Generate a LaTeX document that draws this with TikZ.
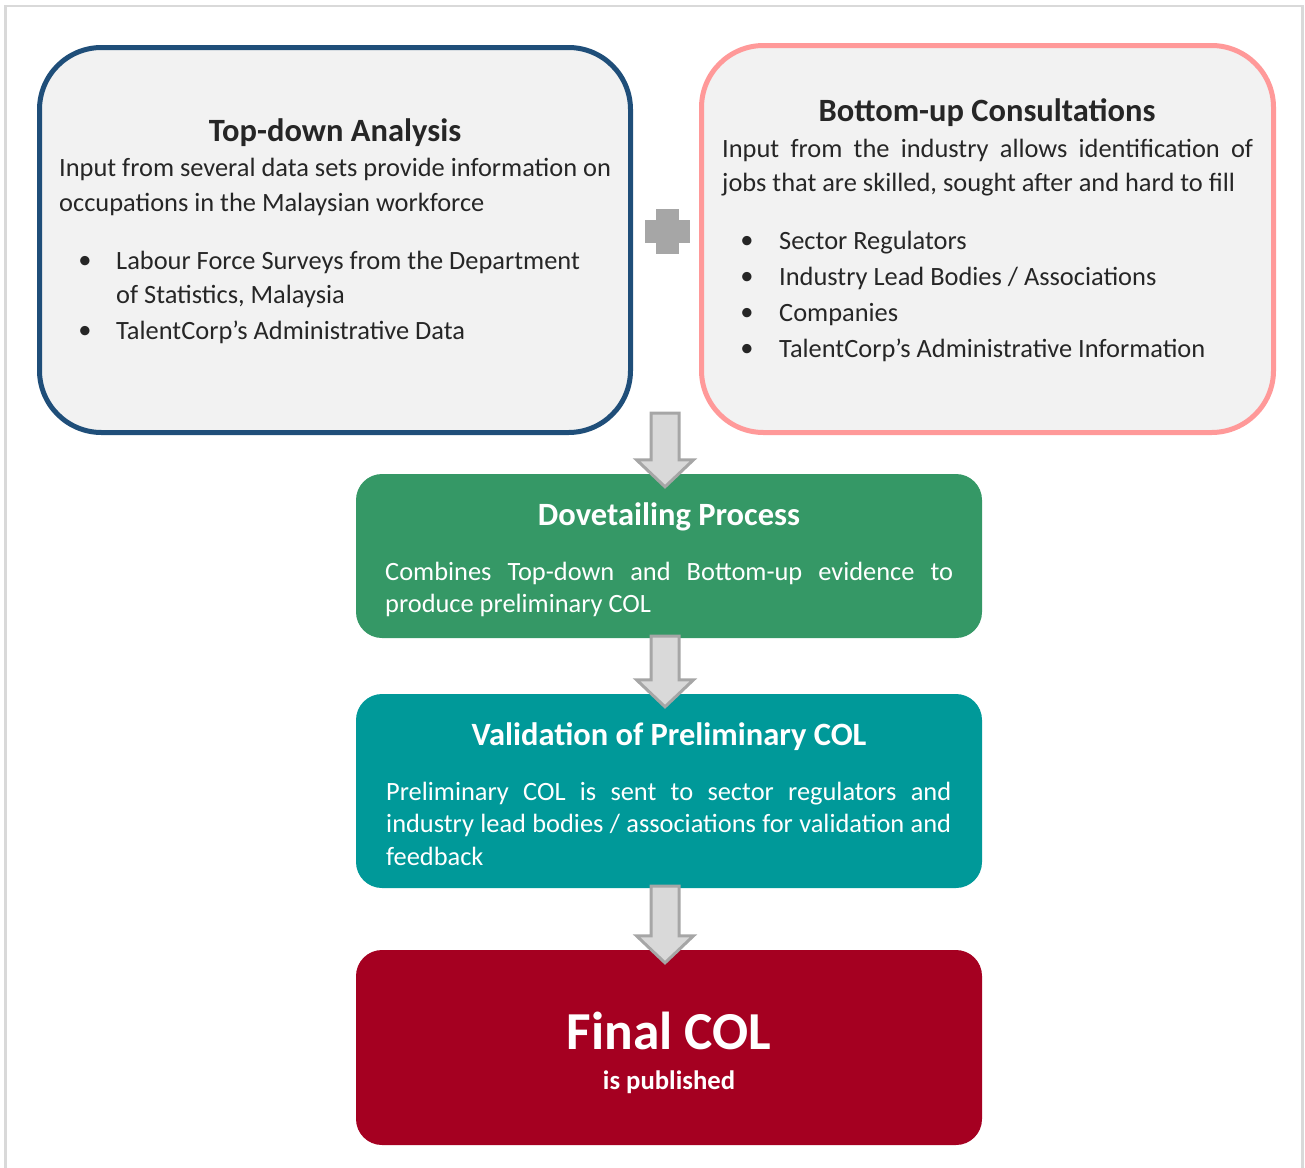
\documentclass[tikz,border=0pt]{standalone}
\usepackage{fontspec}
\setmainfont{Carlito}
\usetikzlibrary{calc}
\definecolor{frameGray}{HTML}{D9D9D9}
\definecolor{boxFill}{HTML}{F2F2F2}
\definecolor{tdBlue}{HTML}{1F4E79}
\definecolor{buPink}{HTML}{FF9999}
\definecolor{dvGreen}{RGB}{53,152,102}
\definecolor{vaTeal}{HTML}{009999}
\definecolor{fiRed}{HTML}{A50021}
\definecolor{arFill}{HTML}{D9D9D9}
\definecolor{arLine}{HTML}{A6A6A6}
\definecolor{txtDark}{HTML}{262626}
\tikzset{
  topbox/.style={draw, line width=5pt, fill=boxFill, rounded corners=62pt, inner sep=0pt},
  flowbox/.style={rounded corners=26pt, inner sep=0pt, minimum width=626pt},
  bodytxt/.style={anchor=mid west, inner sep=0pt, font=\fontsize{26.4}{30}\selectfont, text=txtDark},
  titletxt/.style={anchor=mid, inner sep=0pt, font=\fontsize{32.5}{36}\selectfont\bfseries, text=txtDark},
  wbody/.style={bodytxt, text=white},
  wtitle/.style={titletxt, text=white},
  bul/.style={anchor=mid, inner sep=0pt, font=\fontsize{26.4}{30}\selectfont, text=txtDark},
  arw/.style={fill=arFill, draw=arLine, line width=3pt, line join=miter},
}
\newcommand{\flowarrow}[2]{%
  \draw[arw] let \p1=(#1), \p2=(#2) in
    (\x1-14pt,\y1) -- (\x1+14pt,\y1) -- (\x1+14pt,\y2+14pt) -- (\x1+28.5pt,\y2+14pt)
    -- (\x1,\y2-13pt) -- (\x1-28.5pt,\y2+14pt) -- (\x1-14pt,\y2+14pt) -- cycle;}
\begin{document}
\begin{tikzpicture}[x=1pt,y=-1pt]
\useasboundingbox (0,0) rectangle (1305,1167);
% outer frame
\draw[frameGray, line width=2.5pt] (5.5,1175) -- (5.5,6) -- (1302.5,6) -- (1302.5,1175);

% top boxes
\node[topbox, draw=tdBlue, minimum width=591pt, minimum height=385pt] (td) at (335,240) {};
\node[topbox, draw=buPink, minimum width=572pt, minimum height=387pt] (bu) at (987.5,239) {};

% plus
\fill[arLine] (645,220) rectangle (690,243);
\fill[arLine] (656,209) rectangle (679,254);

% flow boxes
\node[flowbox, fill=dvGreen, minimum height=164pt] (dv) at (669,556) {};
\node[flowbox, fill=vaTeal, minimum height=194pt] (va) at (669,791) {};
\node[flowbox, fill=fiRed, minimum height=195pt] (fi) at (669,1047.5) {};

% arrows
\coordinate (s1) at (665,413);
\coordinate (s2) at (665,636);
\coordinate (s3) at (665,886);
\flowarrow{s1}{dv.north}
\flowarrow{s2}{va.north}
\flowarrow{s3}{fi.north}

% top-down text
\node[titletxt] (tdT) at (335,139) {Top-down Analysis};
\node[bodytxt] (tdL1) at (59,174) {Input from several data sets provide information on};
\node[bodytxt] (tdL2) at (59,209) {occupations in the Malaysian workforce};
\node[bul] (tdB1) at (85,266) {•};
\node[bodytxt] (tdI1) at (116,267) {Labour Force Surveys from the Department};
\node[bodytxt] (tdI1b) at (116,301) {of Statistics, Malaysia};
\node[bul] (tdB2) at (85,336) {•};
\node[bodytxt] (tdI2) at (116,337) {TalentCorp’s Administrative Data};

% bottom-up text
\node[titletxt] (buT) at (987,119) {Bottom-up Consultations};
\node[bodytxt] (buL1) at (722,155) {\makebox[531pt][s]{Input from the industry allows identification of}};
\node[bodytxt] (buL2) at (722,189) {jobs that are skilled, sought after and hard to fill};
\node[bul] (buB1) at (747,246) {•};
\node[bodytxt] (buI1) at (779,247) {Sector Regulators};
\node[bul] (buB2) at (747,282) {•};
\node[bodytxt] (buI2) at (779,283) {Industry Lead Bodies / Associations};
\node[bul] (buB3) at (747,318) {•};
\node[bodytxt] (buI3) at (779,319) {Companies};
\node[bul] (buB4) at (747,354) {•};
\node[bodytxt] (buI4) at (779,355) {TalentCorp’s Administrative Information};

% dovetailing text
\node[wtitle] (dvT) at (669,523) {Dovetailing Process};
\node[wbody] (dvL1) at (385,578) {\makebox[568pt][s]{Combines Top-down and Bottom-up evidence to}};
\node[wbody] (dvL2) at (385,610) {produce preliminary COL};

% validation text
\node[wtitle] (vaT) at (669,743) {Validation of Preliminary COL};
\node[wbody] (vaL1) at (386,798) {\makebox[565pt][s]{Preliminary COL is sent to sector regulators and}};
\node[wbody] (vaL2) at (386,830) {\makebox[565pt][s]{industry lead bodies / associations for validation and}};
\node[wbody] (vaL3) at (386,863) {feedback};

% final text
\node[anchor=mid, inner sep=0pt, text=white, font=\fontsize{53.4}{58}\selectfont\bfseries] (fiT) at (669,1047) {Final COL};
\node[anchor=mid, inner sep=0pt, text=white, font=\fontsize{26.7}{30}\selectfont\bfseries] (fiS) at (669,1087) {is published};
\end{tikzpicture}
\end{document}
